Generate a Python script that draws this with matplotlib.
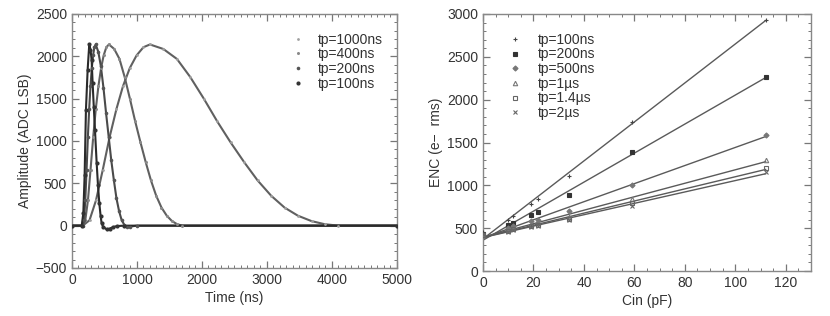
import numpy as np
import matplotlib
matplotlib.use("Agg")
import matplotlib.pyplot as plt
from matplotlib.ticker import MultipleLocator

plt.rcParams['font.family'] = ['Liberation Sans', 'DejaVu Sans']
plt.rcParams['font.size'] = 10

# ---------------- Left panel data: pulse shapes ----------------
t_1000 = [0, 165, 270, 370, 475, 580, 685, 785, 890, 995, 1100, 1200, 1405, 1615, 1820,
          2030, 2235, 2440, 2650, 2855, 3065, 3270, 3475, 3685, 3890, 4100, 5000]
a_1000 = [0, 0, 64, 300, 663, 1049, 1380, 1648, 1862, 2012, 2108, 2140, 2087, 1969, 1755,
          1498, 1231, 984, 749, 535, 353, 214, 118, 54, 17, 0, 0]

t_400 = [0, 165, 205, 246, 286, 327, 367, 407, 448, 488, 529, 569, 650, 731, 811, 892,
         973, 1054, 1135, 1215, 1296, 1377, 1458, 1539, 1619, 1700, 5000]
a_400 = [0, 0, 64, 300, 663, 1049, 1380, 1648, 1862, 2012, 2108, 2140, 2087, 1969, 1755, 1498,
         1231, 984, 749, 535, 353, 214, 118, 54, 17, 0, 0]

t_200 = [0, 165, 185, 205, 225, 245, 265, 285, 305, 325, 345, 365, 405, 445, 485, 525,
         565, 605, 645, 685, 725, 765, 805, 845, 900, 1000, 5000]
a_200 = [0, 0, 64, 300, 663, 1049, 1380, 1648, 1862, 2012, 2108, 2140, 2054, 1883, 1626, 1327,
         1049, 770, 535, 321, 171, 64, 11, -11, -10, 0, 0]

t_100 = [0, 150, 175, 195, 215, 241, 266, 285, 303, 318, 336, 354, 380, 400, 420, 440,
         456, 480, 533, 580, 630, 690, 800, 5000]
a_100 = [0, 0, 150, 600, 1365, 1838, 2140, 2080, 1955, 1680, 1400, 1130, 740, 480, 270, 120,
         30, -15, -43, -35, -18, -5, 0, 0]

pulse_labels = ["tp=1000ns", "tp=400ns", "tp=200ns", "tp=100ns"]

# ---------------- Right panel data: ENC vs Cin ----------------
cin = [0, 10, 12, 19, 22, 34, 59, 112]
enc_100 = [450, 600, 642, 778, 837, 1113, 1740, 2935]
enc_200 = [430, 541, 556, 653, 692, 887, 1390, 2268]
enc_500 = [420, 505, 525, 580, 600, 700, 1000, 1590]
enc_1us = [420, 480, 500, 540, 560, 630, 840, 1296]
enc_1p4 = [420, 470, 490, 520, 535, 605, 790, 1206]
enc_2us = [430, 460, 480, 510, 520, 590, 760, 1159]
enc_labels = ["tp=100ns", "tp=200ns", "tp=500ns", "tp=1\u00b5s", "tp=1.4\u00b5s", "tp=2\u00b5s"]

TXT = "#333333"
LINE = "#5a5a5a"

fig = plt.figure(figsize=(8.3, 3.16), dpi=100)
ax1 = fig.add_axes([0.0867, 0.1519, 0.3916, 0.8038])
ax2 = fig.add_axes([0.5819, 0.1424, 0.3952, 0.8133])

# ---- left ----
styles = [
    (t_1000, a_1000, "#606060", 2.0, "#a0a0a0"),
    (t_400, a_400, "#606060", 2.2, "#8a8a8a"),
    (t_200, a_200, "#4a4a4a", 2.6, "#555555"),
    (t_100, a_100, "#2a2a2a", 3.0, "#333333"),
]
handles = []
for (t, a, lc, ms, mc), lab in zip(styles, pulse_labels):
    ax1.plot(t, a, color=lc, lw=1.5, zorder=2)
    h, = ax1.plot(t, a, ls="none", marker="o", ms=ms, color=mc, mec="none", zorder=3, label=lab)
    handles.append(h)

ax1.set_xlim(0, 5000)
ax1.set_ylim(-500, 2500)
ax1.xaxis.set_major_locator(MultipleLocator(1000))
ax1.xaxis.set_minor_locator(MultipleLocator(100))
ax1.yaxis.set_major_locator(MultipleLocator(500))
ax1.yaxis.set_minor_locator(MultipleLocator(100))
ax1.set_xlabel("Time (ns)", color=TXT, fontsize=10, labelpad=3)
ax1.set_ylabel("Amplitude (ADC LSB)", color=TXT, fontsize=10, labelpad=3)
ax1.legend(handles=handles, loc="upper right", bbox_to_anchor=(0.985, 0.965), frameon=False,
           fontsize=10, handlelength=0.8, handletextpad=1.0, labelspacing=0.05,
           labelcolor=TXT, borderaxespad=0.3)

# ---- right ----
series = [
    (enc_100, "+", 3.5, "#444444", "#444444"),
    (enc_200, "s", 3.0, "#333333", "#333333"),
    (enc_500, "D", 2.6, "#777777", "#777777"),
    (enc_1us, "^", 3.2, "none", "#777777"),
    (enc_1p4, "s", 3.2, "none", "#666666"),
    (enc_2us, "x", 3.0, "#666666", "#666666"),
]
rh = []
xfit = np.array([0, max(cin)])
for (y, m, ms, fc, ec), lab in zip(series, enc_labels):
    p = np.polyfit(cin, y, 1)
    ax2.plot(xfit, np.polyval(p, xfit), color=LINE, lw=1.0, zorder=2)
    h, = ax2.plot(cin, y, ls="none", marker=m, ms=ms, mfc=fc, mec=ec, mew=0.8, zorder=3, label=lab)
    rh.append(h)

ax2.set_xlim(0, 130)
ax2.set_ylim(0, 3000)
ax2.xaxis.set_major_locator(MultipleLocator(20))
ax2.xaxis.set_minor_locator(MultipleLocator(5))
ax2.yaxis.set_major_locator(MultipleLocator(500))
ax2.yaxis.set_minor_locator(MultipleLocator(100))
ax2.set_xlabel("Cin (pF)", color=TXT, fontsize=10, labelpad=3)
ax2.set_ylabel("ENC (e\u2212  rms)", color=TXT, fontsize=10, labelpad=3)
ax2.legend(handles=rh, loc="upper left", bbox_to_anchor=(0.05, 0.965), frameon=False,
           fontsize=10, handlelength=0.8, handletextpad=1.3, labelspacing=0.05,
           labelcolor=TXT, borderaxespad=0.3)

for ax in (ax1, ax2):
    ax.tick_params(which="both", direction="in", top=True, right=True, colors="#777777",
                   labelcolor=TXT, labelsize=10)
    ax.tick_params(which="major", length=5, width=0.9)
    ax.tick_params(which="minor", length=2.5, width=0.7)
    for s in ax.spines.values():
        s.set_color("#888888")
        s.set_linewidth(1.0)

fig.savefig("out.png", dpi=100)
